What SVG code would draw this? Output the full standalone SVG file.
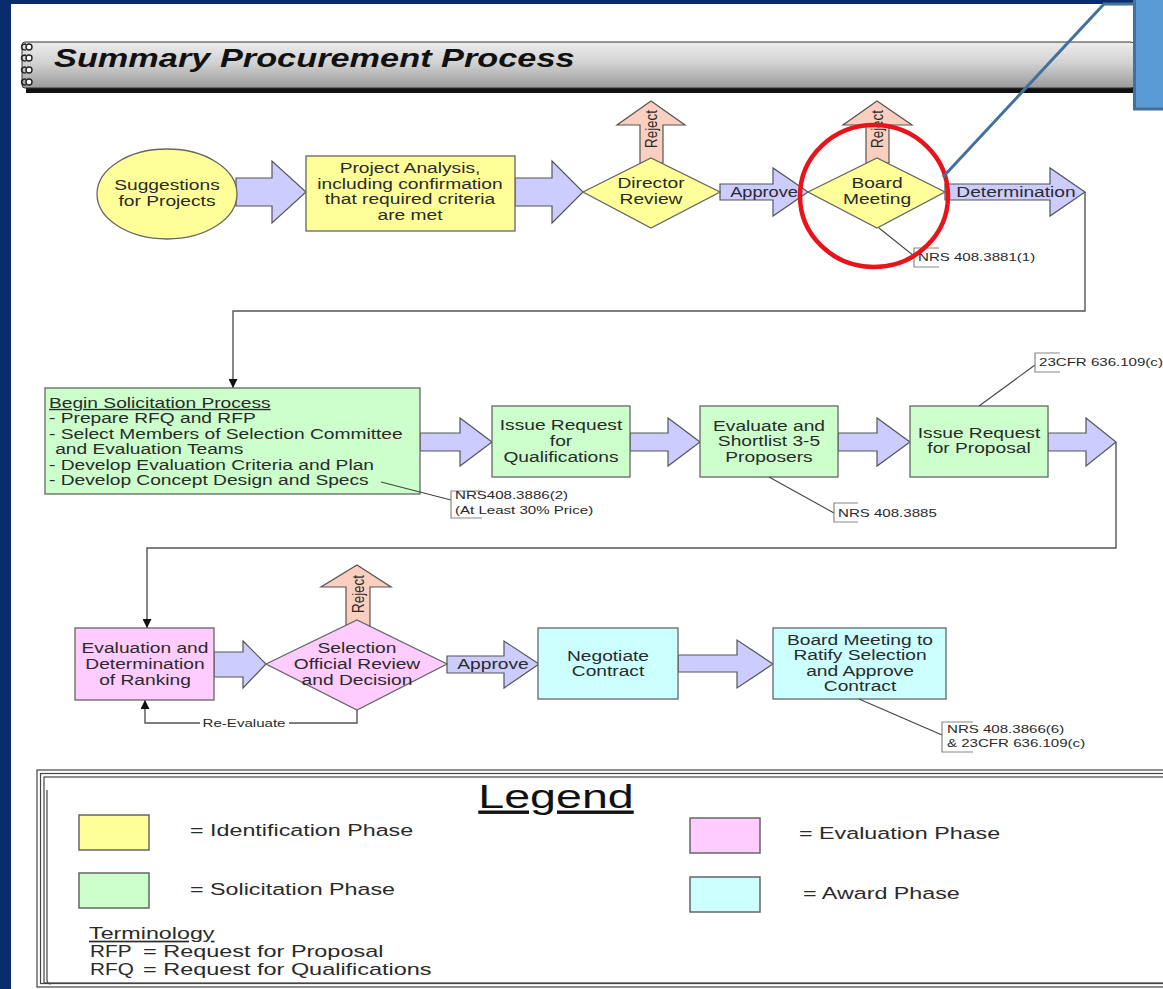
<svg xmlns="http://www.w3.org/2000/svg" width="1163" height="989" viewBox="0 0 1163 989">
<defs>
<linearGradient id="barg" x1="0" y1="0" x2="0" y2="1">
<stop offset="0" stop-color="#ececec"/>
<stop offset="0.45" stop-color="#d2d2d2"/>
<stop offset="1" stop-color="#9a9a9a"/>
</linearGradient>
<marker id="ah" viewBox="0 0 10 10" refX="10" refY="5" markerWidth="9" markerHeight="9" markerUnits="userSpaceOnUse" orient="auto">
<path d="M0,0 L10,5 L0,10 z" fill="#111"/>
</marker>
<style>
.t{font-family:"Liberation Sans",Arial,sans-serif;font-size:14px;fill:#2a2a2a}
.c{text-anchor:middle}
.sm{font-size:11px}
.lg{font-size:17px}
.ny{fill:#ffff99;stroke:#666;stroke-width:1.3}
.ng{fill:#ccffcc;stroke:#666;stroke-width:1.3}
.np{fill:#ffccff;stroke:#666;stroke-width:1.3}
.nc{fill:#ccffff;stroke:#666;stroke-width:1.3}
.ba{fill:#ccccff;stroke:#555;stroke-width:1.2}
.rj{fill:#fbcfc0;stroke:#555;stroke-width:1.2}
.cn{fill:none;stroke:#555;stroke-width:1.4}
.ld{fill:none;stroke:#444;stroke-width:1.1}
.br{fill:none;stroke:#888;stroke-width:1.2}
.fr{fill:none;stroke:#444;stroke-width:1.2}
</style>
</defs>

<!-- page background -->
<rect x="0" y="0" width="1163" height="989" fill="#ffffff"/>
<rect x="0" y="0" width="1163" height="4" fill="#0a2b6d"/>
<rect x="0" y="0" width="11" height="989" fill="#0a2b6d"/>

<!-- header bar -->
<g id="header">
<rect x="26" y="47" width="1110" height="46" fill="#111"/>
<rect x="22" y="42" width="1112" height="46" rx="3" fill="url(#barg)" stroke="#333" stroke-width="1"/>
<g fill="none" stroke="#222" stroke-width="1.4">
<circle cx="29" cy="47" r="3" fill="#fff"/>
<path d="M26,44 C20,44 20,50 26,50"/>
<circle cx="29" cy="58" r="3" fill="#fff"/>
<path d="M26,55 C20,55 20,61 26,61"/>
<circle cx="29" cy="70" r="3" fill="#fff"/>
<path d="M26,67 C20,67 20,73 26,73"/>
<circle cx="29" cy="82" r="3" fill="#fff"/>
<path d="M26,79 C20,79 20,85 26,85"/>
</g>
<text class="t" transform="translate(54,67) scale(1.32,1)" style="font-size:26px;font-weight:bold;font-style:italic;fill:#111">Summary Procurement Process</text>
</g>

<!-- connectors -->
<g id="connectors">
<polygon class="ba" points="236,178 272,178 272,161 306,192 272,223 272,206 236,206"/>
<polygon class="ba" points="515,178 552,178 552,161 583,192 552,223 552,206 515,206"/>
<polygon class="ba" points="720,184 773,184 773,168 808,192 773,216 773,200 720,200"/>
<polygon class="ba" points="945,184 1050,184 1050,168 1085,192 1050,216 1050,200 945,200"/>
<polygon class="rj" points="640,163 640,125 617,125 651,101 685,125 663,125 663,163"/>
<polygon class="rj" points="866,163 866,125 843,125 877,101 912,125 889,125 889,163"/>
<polygon class="rj" points="346,626 346,587 321,587 357,565 391,587 370,587 370,626"/>
<polygon class="ba" points="420,433 460,433 460,418 492,442 460,466 460,451 420,451"/>
<polygon class="ba" points="630,433 668,433 668,418 700,442 668,466 668,451 630,451"/>
<polygon class="ba" points="838,433 877,433 877,418 910,442 877,466 877,451 838,451"/>
<polygon class="ba" points="1048,433 1086,433 1086,418 1116,442 1086,466 1086,451 1048,451"/>
<polygon class="ba" points="214,652 243,652 243,641 266,664 243,688 243,677 214,677"/>
<polygon class="ba" points="447,656 504,656 504,641 539,664 504,688 504,673 447,673"/>
<polygon class="ba" points="678,655 737,655 737,640 773,664 737,688 737,672 678,672"/>
<path class="cn" d="M1085,192 V311 H233 V388" marker-end="url(#ah)"/>
<path class="cn" d="M1116,442 V548 H147 V628" marker-end="url(#ah)"/>
<path class="cn" d="M357,710 V723 H289"/>
<path class="cn" d="M200,723 H145 V700" marker-end="url(#ah)"/>
<text class="t" transform="translate(651,129) rotate(-90) scale(1,1.3)" style="text-anchor:middle;font-size:13.4px" y="4.5">Reject</text>
<text class="t" transform="translate(877,129) rotate(-90) scale(1,1.3)" style="text-anchor:middle;font-size:13.4px" y="4.5">Reject</text>
<text class="t" transform="translate(358,594) rotate(-90) scale(1,1.3)" style="text-anchor:middle;font-size:13.4px" y="4.5">Reject</text>
<text class="t c" transform="translate(764,197) scale(1.3,1)">Approve</text>
<text class="t c" transform="translate(1016,197) scale(1.37,1)">Determination</text>
<text class="t c" transform="translate(493,669) scale(1.37,1)">Approve</text>
<text class="t c sm" transform="translate(244,727) scale(1.37,1)">Re-Evaluate</text>
</g>

<!-- nodes row 1 -->
<g id="n-suggestions">
<ellipse class="ny" cx="167" cy="194" rx="70" ry="45"/>
<text class="t c" transform="translate(167,190) scale(1.37,1)"><tspan x="0">Suggestions</tspan><tspan x="0" dy="16">for Projects</tspan></text>
</g>
<g id="n-analysis">
<rect class="ny" x="306" y="156" width="209" height="75"/>
<text class="t c" transform="translate(410,173) scale(1.37,1)"><tspan x="0">Project Analysis,</tspan><tspan x="0" dy="15.7">including confirmation</tspan><tspan x="0" dy="15.7">that required criteria</tspan><tspan x="0" dy="15.7">are met</tspan></text>
</g>
<g id="n-director">
<polygon class="ny" points="583,192 651,158 720,192 651,228"/>
<text class="t c" transform="translate(651,188) scale(1.37,1)"><tspan x="0">Director</tspan><tspan x="0" dy="16">Review</tspan></text>
</g>
<g id="n-board">
<polygon class="ny" points="808,192 877,158 945,192 877,228"/>
<text class="t c" transform="translate(877,188) scale(1.37,1)"><tspan x="0">Board</tspan><tspan x="0" dy="16">Meeting</tspan></text>
</g>
<g id="c-nrs3881">
<path class="ld" d="M879,228 L914,256"/>
<path class="br" d="M939,248 H914 V267 H939"/>
<text class="t sm" transform="translate(918,261) scale(1.37,1)">NRS 408.3881(1)</text>
</g>

<!-- nodes row 2 -->
<g id="n-begin">
<rect class="ng" x="45" y="388" width="375" height="106"/>
<text class="t" transform="translate(49,408) scale(1.37,1)"><tspan x="0" style="text-decoration:underline">Begin Solicitation Process</tspan><tspan x="0" dy="15.5">- Prepare RFQ and RFP</tspan><tspan x="0" dy="15.5">- Select Members of Selection Committee</tspan><tspan x="4.5" dy="15.5">and Evaluation Teams</tspan><tspan x="0" dy="15.5">- Develop Evaluation Criteria and Plan</tspan><tspan x="0" dy="15.5">- Develop Concept Design and Specs</tspan></text>
</g>
<g id="c-nrs3886">
<path class="ld" d="M381,482 L451,500"/>
<path class="br" d="M482,491 H451 V518 H482"/>
<text class="t sm" transform="translate(455,499) scale(1.37,1)"><tspan x="0">NRS408.3886(2)</tspan><tspan x="0" dy="15">(At Least 30% Price)</tspan></text>
</g>
<g id="n-rfq">
<rect class="ng" x="492" y="406" width="138" height="71"/>
<text class="t c" transform="translate(561,430) scale(1.37,1)"><tspan x="0">Issue Request</tspan><tspan x="0" dy="16">for</tspan><tspan x="0" dy="16">Qualifications</tspan></text>
</g>
<g id="n-shortlist">
<rect class="ng" x="700" y="406" width="138" height="71"/>
<text class="t c" transform="translate(769,431) scale(1.37,1)"><tspan x="0">Evaluate and</tspan><tspan x="0" dy="15.5">Shortlist 3-5</tspan><tspan x="0" dy="15.5">Proposers</tspan></text>
</g>
<g id="c-nrs3885">
<path class="ld" d="M769,477 L834,513"/>
<path class="br" d="M858,503 H834 V522 H858"/>
<text class="t sm" transform="translate(838,517) scale(1.37,1)">NRS 408.3885</text>
</g>
<g id="n-rfp">
<rect class="ng" x="910" y="406" width="138" height="71"/>
<text class="t c" transform="translate(979,438) scale(1.37,1)"><tspan x="0">Issue Request</tspan><tspan x="0" dy="15.5">for Proposal</tspan></text>
</g>
<g id="c-cfr">
<path class="ld" d="M979,406 L1035,365"/>
<path class="br" d="M1060,353 H1035 V372 H1060"/>
<text class="t sm" transform="translate(1039,366) scale(1.37,1)">23CFR 636.109(c)</text>
</g>

<!-- nodes row 3 -->
<g id="n-ranking">
<rect class="np" x="75" y="628" width="139" height="72"/>
<text class="t c" transform="translate(145,653) scale(1.37,1)"><tspan x="0">Evaluation and</tspan><tspan x="0" dy="16">Determination</tspan><tspan x="0" dy="16">of Ranking</tspan></text>
</g>
<g id="n-selection">
<polygon class="np" points="266,664 357,620 447,664 357,710"/>
<text class="t c" transform="translate(357,653) scale(1.37,1)"><tspan x="0">Selection</tspan><tspan x="0" dy="16">Official Review</tspan><tspan x="0" dy="16">and Decision</tspan></text>
</g>
<g id="n-negotiate">
<rect class="nc" x="538" y="628" width="140" height="71"/>
<text class="t c" transform="translate(608,661) scale(1.37,1)"><tspan x="0">Negotiate</tspan><tspan x="0" dy="15.5">Contract</tspan></text>
</g>
<g id="n-ratify">
<rect class="nc" x="773" y="628" width="173" height="71"/>
<text class="t c" transform="translate(860,645) scale(1.37,1)"><tspan x="0">Board Meeting to</tspan><tspan x="0" dy="15.5">Ratify Selection</tspan><tspan x="0" dy="15.5">and Approve</tspan><tspan x="0" dy="15.5">Contract</tspan></text>
</g>
<g id="c-nrs3866">
<path class="ld" d="M859,699 L942,735"/>
<path class="br" d="M973,722 H942 V752 H973"/>
<text class="t sm" transform="translate(947,733) scale(1.37,1)"><tspan x="0">NRS 408.3866(6)</tspan><tspan x="0" dy="14">&amp; 23CFR 636.109(c)</tspan></text>
</g>

<!-- legend -->
<g id="legend">
<rect x="37" y="770" width="1140" height="217" fill="#fff" stroke="#444" stroke-width="1.2"/>
<rect class="fr" x="40.5" y="773.5" width="1133" height="210" stroke="#999" stroke-width="2"/>
<rect class="fr" x="44" y="777" width="1126" height="206"/>
<path class="fr" d="M47,790 V980 Q47,984 51,984"/>
<text class="t c" transform="translate(556,808) scale(1.37,1)" style="font-size:34px;fill:#111;text-decoration:underline">Legend</text>
<rect x="79" y="815" width="70" height="35" fill="#ffff99" stroke="#666" stroke-width="1.5"/>
<text class="t lg" transform="translate(190,836) scale(1.37,1)">= Identification Phase</text>
<rect x="79" y="873" width="70" height="35" fill="#ccffcc" stroke="#666" stroke-width="1.5"/>
<text class="t lg" transform="translate(190,895) scale(1.37,1)">= Solicitation Phase</text>
<rect x="690" y="818" width="70" height="35" fill="#ffccff" stroke="#666" stroke-width="1.5"/>
<text class="t lg" transform="translate(799,839) scale(1.37,1)">= Evaluation Phase</text>
<rect x="690" y="877" width="70" height="35" fill="#ccffff" stroke="#666" stroke-width="1.5"/>
<text class="t lg" transform="translate(803,899) scale(1.37,1)">= Award Phase</text>
<text class="t lg" transform="translate(89,939) scale(1.37,1)" style="text-decoration:underline">Terminology</text>
<text class="t lg" transform="translate(90,957) scale(1.22,1)">RFP</text>
<text class="t lg" transform="translate(143,957) scale(1.38,1)">= Request for Proposal</text>
<text class="t lg" transform="translate(90,975) scale(1.22,1)">RFQ</text>
<text class="t lg" transform="translate(143,975) scale(1.38,1)">= Request for Qualifications</text>
</g>

<!-- annotation overlay -->
<g id="annotation">
<ellipse cx="874" cy="196" rx="74" ry="71" fill="none" stroke="#e8141b" stroke-width="4.5"/>
<polyline points="1134,4 1104,4 943,177" fill="none" stroke="#41719c" stroke-width="3"/>
<rect x="1134.5" y="-3" width="40" height="112" fill="#5b9bd5" stroke="#41719c" stroke-width="3"/>
</g>
</svg>
